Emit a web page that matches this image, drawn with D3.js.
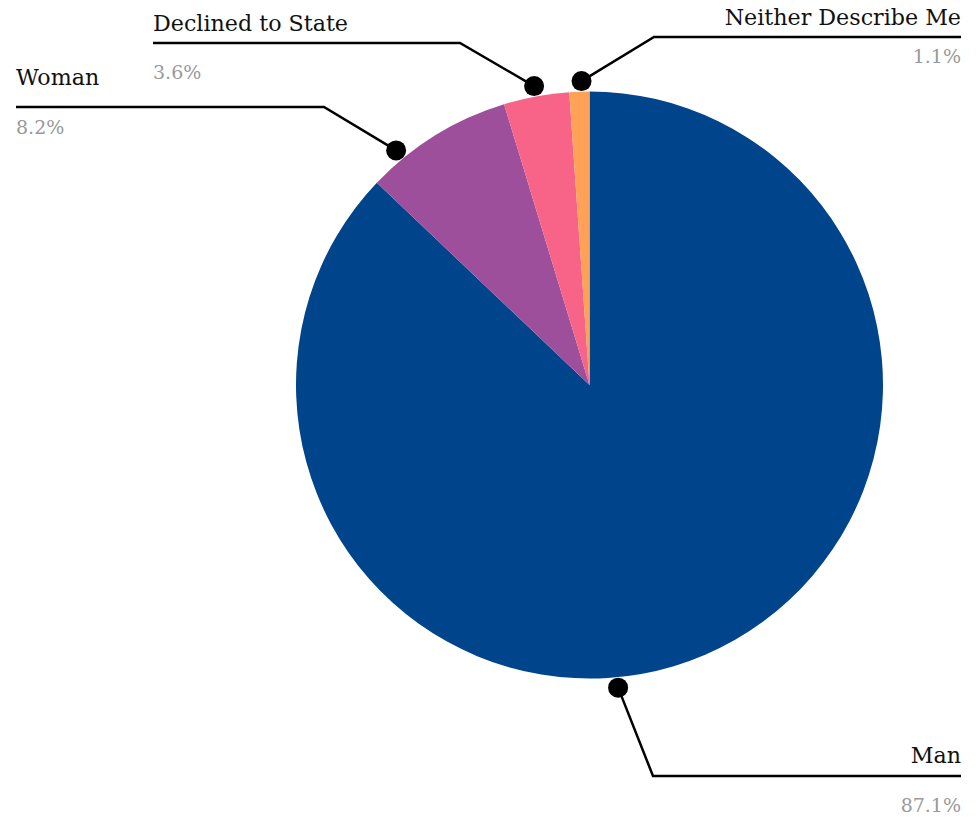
<!DOCTYPE html>
<html>
<head>
<meta charset="utf-8">
<script src="https://cdn.jsdelivr.net/npm/d3@7"></script>
<style>
  html, body { margin: 0; padding: 0; background: #fff; }
  svg { display: block; }
  .cat { font-family: "DejaVu Serif", serif; font-size: 22.2px; fill: #111; }
  .val { font-family: "DejaVu Serif", serif; font-size: 19px; fill: #999; }
</style>
</head>
<body>
<svg id="chart" width="978" height="817"></svg>
<script>
// Gender breakdown of respondents
const categories = ["Man", "Woman", "Declined to State", "Neither Describe Me"];
const shares = [87.1, 8.2, 3.6, 1.1];
const valueLabels = ["87.1%", "8.2%", "3.6%", "1.1%"];
const sliceColors = ["#00458b", "#9e4f9b", "#f76488", "#ffa157"];

// Callout placement: dot angle (deg, clockwise from top), elbow and leader end,
// and baselines for the category and value text.
const dotAngles = [174.6, 320.5, 349.5, 358.5];
const elbows = [[653, 776], [324, 107], [460, 43], [654, 37]];
const leaderEnds = [961, 16, 153, 961];
const catBaselines = [763, 85, 31, 25];
const valBaselines = [812, 134, 79, 63];

const width = 978, height = 817;
const cx = 589.5, cy = 385, radius = 293.5, dotRadius = 304;

const svg = d3.select("#chart");
const g = svg.append("g").attr("transform", `translate(${cx},${cy})`);

const data = categories.map((c, i) => ({ name: c, value: shares[i], i }));

const pie = d3.pie().sort(null).value(d => d.value);
const arc = d3.arc().innerRadius(0).outerRadius(radius);

g.selectAll("path.slice")
  .data(pie(data))
  .join("path")
  .attr("class", "slice")
  .attr("d", arc)
  .attr("fill", d => sliceColors[d.data.i]);

// Callouts
const toRad = d3.scaleLinear().domain([0, 360]).range([0, 2 * Math.PI]);
const callouts = svg.append("g");

data.forEach((d, i) => {
  const a = toRad(dotAngles[i]);
  const dx = cx + dotRadius * Math.sin(a);
  const dy = cy - dotRadius * Math.cos(a);
  const [ex, ey] = elbows[i];
  const endX = leaderEnds[i];
  const anchor = endX > ex ? "end" : "start";

  callouts.append("path")
    .attr("d", d3.line()([[dx, dy], [ex, ey], [endX, ey]]))
    .attr("fill", "none")
    .attr("stroke", "#000")
    .attr("stroke-width", 2.5);

  callouts.append("circle")
    .attr("cx", dx).attr("cy", dy).attr("r", 10)
    .attr("fill", "#000");

  callouts.append("text")
    .attr("class", "cat")
    .attr("x", endX).attr("y", catBaselines[i])
    .attr("text-anchor", anchor)
    .text(d.name);

  callouts.append("text")
    .attr("class", "val")
    .attr("x", endX).attr("y", valBaselines[i])
    .attr("text-anchor", anchor)
    .text(valueLabels[i]);
});
</script>
</body>
</html>
